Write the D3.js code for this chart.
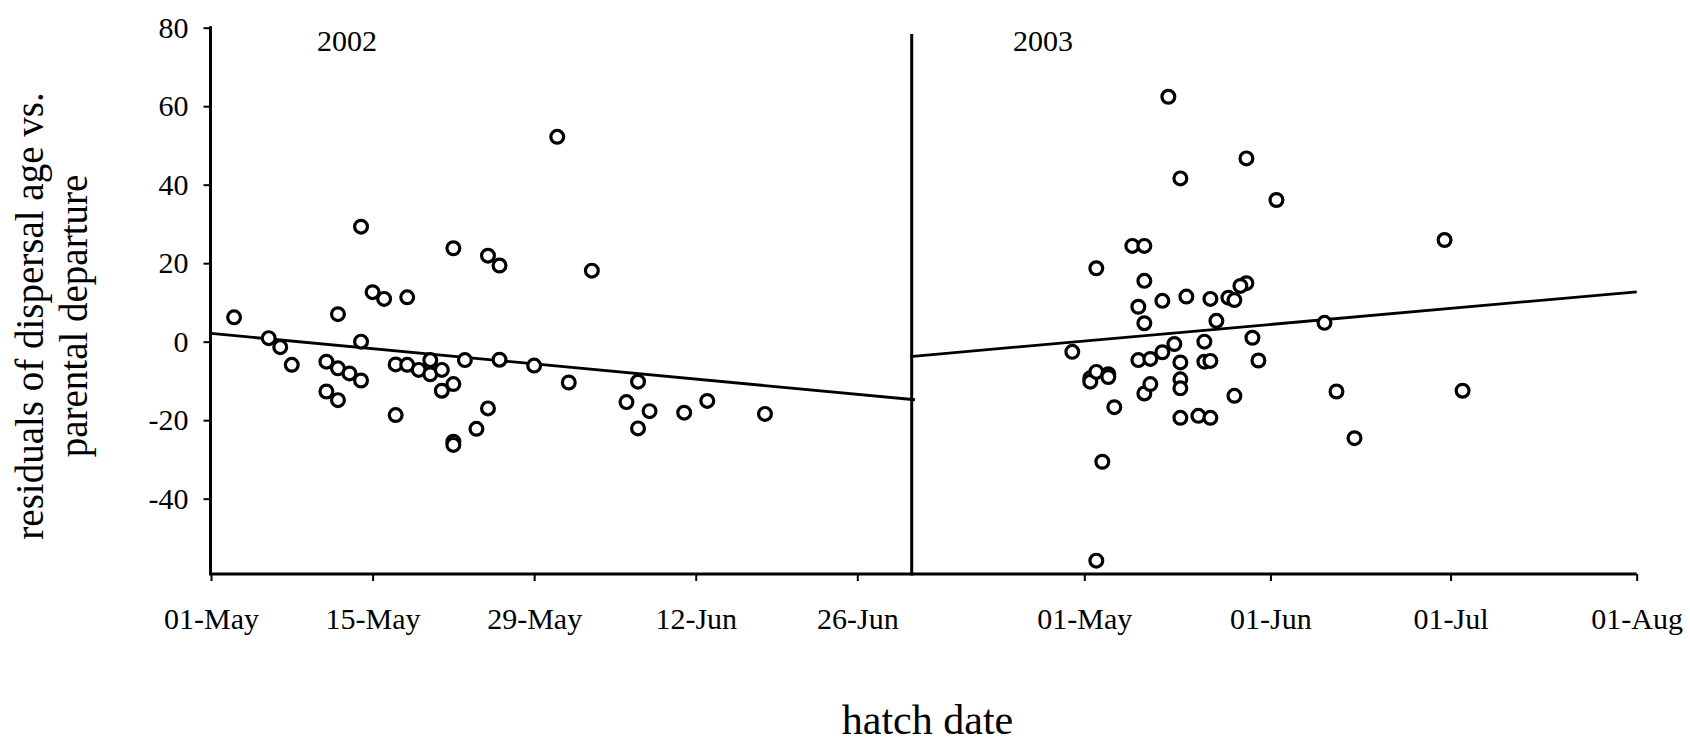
<!DOCTYPE html>
<html>
<head>
<meta charset="utf-8">
<script src="https://cdn.jsdelivr.net/npm/d3@7"></script>
<style>
  html, body { margin: 0; padding: 0; background: #fff; }
  svg { display: block; font-family: "Times New Roman", "Liberation Serif", serif; }
</style>
</head>
<body>
<svg id="chart" width="1690" height="743"></svg>
<script>
// ---- 2002 season: hatch date and residual ----
const hatch2002 = [
  "2002-05-03","2002-05-06","2002-05-07","2002-05-08","2002-05-11","2002-05-11",
  "2002-05-12","2002-05-12","2002-05-12","2002-05-13","2002-05-14","2002-05-14",
  "2002-05-14","2002-05-15","2002-05-16","2002-05-17","2002-05-17","2002-05-18",
  "2002-05-18","2002-05-19","2002-05-20","2002-05-20","2002-05-21","2002-05-21",
  "2002-05-22","2002-05-22","2002-05-22","2002-05-22","2002-05-23","2002-05-24",
  "2002-05-25","2002-05-25","2002-05-26","2002-05-26","2002-05-29","2002-05-31",
  "2002-06-01","2002-06-03","2002-06-06","2002-06-07","2002-06-07","2002-06-08",
  "2002-06-11","2002-06-13","2002-06-18"
];
const resid2002 = [
  6.2, 0.9, -1.4, -5.9, -5.1, -12.7,
  7.0, -6.8, -14.9, -8.1, 29.3, 0.0,
  -9.9, 12.6, 10.9, -5.8, -18.7, 11.3,
  -5.9, -7.2, -4.7, -8.3, -7.2, -12.5,
  23.8, -10.8, -25.5, -26.3, -4.7, -22.2,
  21.9, -17.0, 19.4, -4.6, -6.1, 52.2,
  -10.4, 18.1, -15.4, -10.2, -22.1, -17.7,
  -18.1, -15.1, -18.4
];
const fitDates2002 = ["2002-05-01", "2002-07-01"];
const fitValues2002 = [2.1, -14.8];

// ---- 2003 season: hatch date and residual ----
const hatch2003 = [
  "2003-05-15","2003-05-28","2003-05-17","2003-06-02","2003-05-09","2003-05-11",
  "2003-05-03","2003-05-11","2003-05-28","2003-05-27","2003-05-14","2003-05-18",
  "2003-05-22","2003-05-25","2003-05-26","2003-05-10","2003-05-11","2003-05-23",
  "2003-06-10","2003-04-29","2003-05-16","2003-05-21","2003-05-29","2003-05-14",
  "2003-05-10","2003-05-12","2003-05-17","2003-05-21","2003-05-22","2003-05-30",
  "2003-05-02","2003-05-02","2003-05-03","2003-05-05","2003-05-05","2003-05-06",
  "2003-05-11","2003-05-12","2003-05-17","2003-05-17","2003-05-26","2003-05-17",
  "2003-05-20","2003-05-22","2003-05-04","2003-05-03","2003-06-12","2003-06-15",
  "2003-07-03","2003-06-30"
];
const resid2003 = [
  62.4, 46.7, 41.6, 36.1, 24.4, 24.4,
  18.7, 15.5, 14.9, 14.2, 10.4, 11.5,
  10.9, 11.2, 10.6, 8.9, 4.7, 5.3,
  4.8, -2.6, -0.6, 0.0, 1.0, -2.7,
  -4.7, -4.4, -5.3, -5.1, -4.9, -4.8,
  -9.3, -10.2, -7.7, -8.3, -9.0, -16.7,
  -13.2, -10.8, -9.6, -11.9, -13.8, -19.4,
  -18.9, -19.4, -30.6, -55.8, -12.7, -24.6,
  -12.5, 25.9
];
const fitDates2003 = ["2003-04-02", "2003-08-01"];
const fitValues2003 = [-3.8, 12.7];

// ---- axis ticks and text ----
const yTicks = [-40, -20, 0, 20, 40, 60, 80];
const xTicks2002 = ["2002-05-01","2002-05-15","2002-05-29","2002-06-12","2002-06-26"];
const xTicks2003 = ["2003-05-01","2003-06-01","2003-07-01","2003-08-01"];
const yearLabels = ["2002", "2003"];
const yTitleLines = ["residuals of dispersal age vs.", "parental departure"];
const xTitle = "hatch date";

// ---- layout ----
const parse = d3.utcParse("%Y-%m-%d");
const fmt = d3.utcFormat("%d-%b");
const plotTop = 27.7, plotBottom = 574;
const axisX = 210.5, divX = 911.7, axisEnd = 1636.7, divTop = 34;

const y = d3.scaleLinear().domain([-59.2, 80]).range([plotBottom, plotTop]);
const x2002 = d3.scaleUtc()
  .domain([parse("2002-05-01"), parse("2002-06-26")])
  .range([211, 857.3]);
const x2003 = d3.scaleUtc()
  .domain([parse("2003-05-01"), parse("2003-08-01")])
  .range([1084.3, 1636.7]);

const svg = d3.select("#chart");

// left value axis
const yAxis = svg.append("g")
  .attr("transform", `translate(${axisX},0)`)
  .call(d3.axisLeft(y).tickValues(yTicks).tickSize(7).tickSizeOuter(0)
    .tickPadding(15).tickFormat(d => String(d)));
yAxis.select(".domain").attr("stroke", "#000").attr("stroke-width", 3)
  .attr("d", `M0,${plotBottom}V${plotTop - 1.5}`);
yAxis.selectAll(".tick line").attr("stroke", "#000").attr("stroke-width", 2);
yAxis.selectAll(".tick text").attr("font-size", 30).attr("fill", "#000")
  .attr("font-family", "'Times New Roman','Liberation Serif',serif");

// date axes
function dateAxis(scale, ticks) {
  const g = svg.append("g")
    .attr("transform", `translate(0,${plotBottom})`)
    .call(d3.axisBottom(scale).tickValues(ticks.map(parse)).tickSize(7)
      .tickSizeOuter(0).tickFormat(fmt));
  g.select(".domain").remove();
  g.selectAll(".tick line").attr("stroke", "#000").attr("stroke-width", 2);
  g.selectAll(".tick text").attr("font-size", 30).attr("fill", "#000")
    .attr("y", 55).attr("dy", null)
    .attr("font-family", "'Times New Roman','Liberation Serif',serif");
}
dateAxis(x2002, xTicks2002);
dateAxis(x2003, xTicks2003);

// baseline and panel divider
svg.append("line")
  .attr("x1", axisX - 1.5).attr("x2", axisEnd)
  .attr("y1", plotBottom).attr("y2", plotBottom)
  .attr("stroke", "#000").attr("stroke-width", 3.2);
svg.append("line")
  .attr("x1", divX).attr("x2", divX)
  .attr("y1", divTop).attr("y2", plotBottom + 1.5)
  .attr("stroke", "#000").attr("stroke-width", 3);

// regression lines
function fitLine(scale, dates, values) {
  const pts = dates.map((d, i) => [scale(parse(d)), y(values[i])]);
  svg.append("path")
    .attr("d", d3.line()(pts))
    .attr("fill", "none").attr("stroke", "#000").attr("stroke-width", 2.8);
}
fitLine(x2002, fitDates2002, fitValues2002);
fitLine(x2003, fitDates2003, fitValues2003);

// observations
function points(scale, dates, values) {
  const data = dates.map((d, i) => ({ date: parse(d), value: values[i] }));
  svg.append("g").selectAll("circle").data(data).join("circle")
    .attr("cx", d => scale(d.date))
    .attr("cy", d => y(d.value))
    .attr("r", 6.4)
    .attr("fill", "#fff").attr("stroke", "#000").attr("stroke-width", 3.2);
}
points(x2002, hatch2002, resid2002);
points(x2003, hatch2003, resid2003);

// year labels
svg.selectAll(".year").data(yearLabels).join("text")
  .attr("class", "year")
  .attr("x", (d, i) => [317, 1013][i])
  .attr("y", 51)
  .attr("font-size", 30).attr("fill", "#000")
  .text(d => d);

// axis titles
svg.selectAll(".ytitle").data(yTitleLines).join("text")
  .attr("class", "ytitle")
  .attr("transform", (d, i) => `translate(${[42.7, 87.3][i]},316) rotate(-90)`)
  .attr("text-anchor", "middle")
  .attr("font-size", 39).attr("fill", "#000")
  .text(d => d);

svg.append("text")
  .attr("x", 927.5).attr("y", 734)
  .attr("text-anchor", "middle")
  .attr("font-size", 42).attr("fill", "#000")
  .text(xTitle);
</script>
</body>
</html>
